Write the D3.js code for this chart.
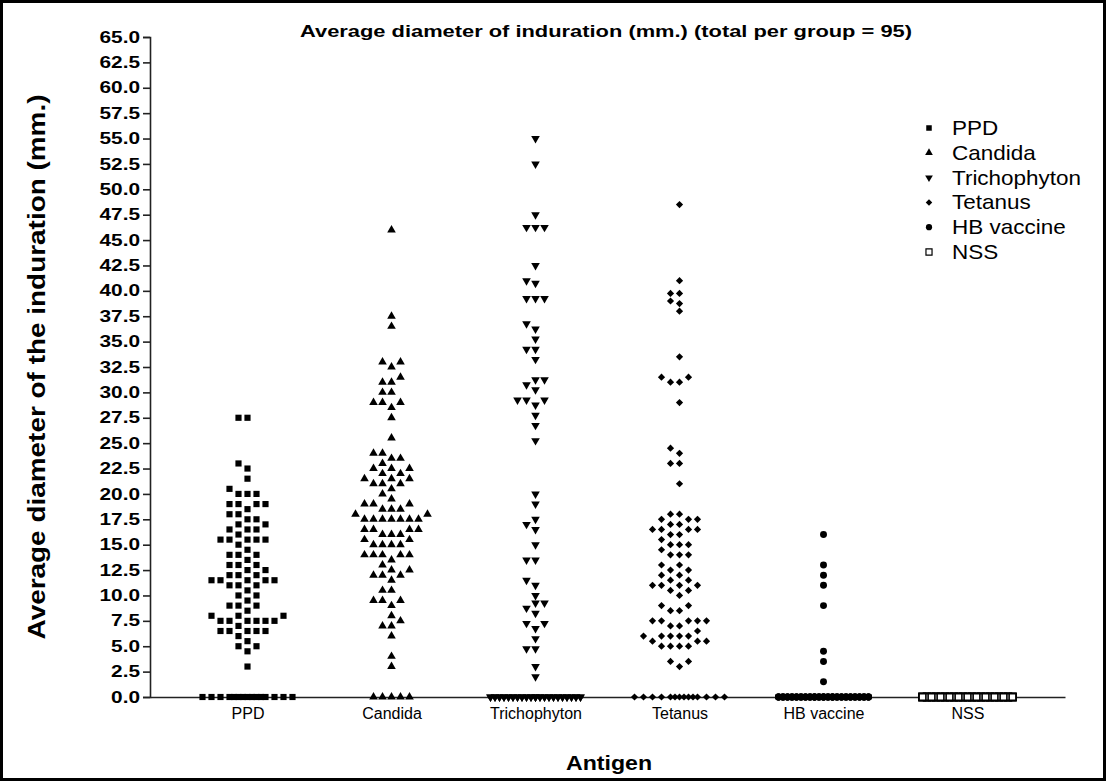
<!DOCTYPE html>
<html><head><meta charset="utf-8">
<script src="https://cdn.jsdelivr.net/npm/d3@7"></script>
<style>
body{margin:0;background:#fff}
svg{display:block}
text{font-family:"Liberation Sans",Arial,Helvetica,sans-serif;fill:#000}
</style>
</head><body>
<svg id="chart" width="1106" height="781"></svg>
<script>
// ---------------- data ----------------
const categories = ["PPD","Candida","Trichophyton","Tetanus","HB vaccine","NSS"];
const yTickValues = [0,2.5,5,7.5,10,12.5,15,17.5,20,22.5,25,27.5,30,32.5,35,37.5,40,42.5,45,47.5,50,52.5,55,57.5,60,62.5,65];
const titleText = "Average diameter of induration (mm.) (total per group = 95)";
const yTitle = "Average diameter of the induration (mm.)";
const xTitle = "Antigen";

const ppd = [0,0,0,0,0,0,0,0,0,0,0,0,0,0,0,
  3.0,4.5,5.0,5.0,5.5,6.0,6.5,6.5,6.5,6.5,6.5,7.0,7.5,7.5,7.5,7.5,7.5,7.5,
  8.0,8.0,8.0,8.5,9.0,9.0,9.0,9.5,10.0,10.0,10.5,11.0,11.0,11.0,
  11.5,11.5,11.5,11.5,11.5,12.0,12.0,12.0,12.5,12.5,13.0,13.0,13.0,13.5,
  14.0,14.0,14.0,14.5,15.0,15.5,15.5,15.5,15.5,15.5,16.0,16.5,16.5,16.5,
  17.0,17.0,17.5,17.5,18.0,18.0,18.5,19.0,19.0,19.0,19.0,20.0,20.0,20.0,
  20.5,21.5,22.5,23.0,27.5,27.5];
const candida = [0,0,0,0,0,
  3.0,4.0,6.0,7.0,7.0,7.5,8.0,9.0,9.5,9.5,9.5,10.5,10.5,11.5,12.0,12.0,12.0,
  12.5,12.5,13.0,13.5,14.0,14.0,14.0,14.0,14.0,15.0,15.0,15.0,15.0,15.5,15.5,
  16.0,16.0,16.0,16.5,16.5,16.5,16.5,17.5,17.5,17.5,17.5,17.5,17.5,17.5,
  18.0,18.0,18.5,18.5,18.5,19.0,19.0,19.0,19.5,20.0,20.5,21.0,21.0,21.0,
  21.5,21.5,21.5,22.0,22.0,22.5,22.5,22.5,23.0,23.5,23.5,24.0,24.0,25.5,
  27.5,28.5,29.0,29.0,29.0,30.0,30.0,31.0,31.0,31.5,32.5,33.0,33.0,36.5,37.5,46.0];
const trichophyton = [0,0,0,0,0,0,0,0,0,0,0,0,0,0,0,0,0,0,0,0,0,0,0,0,0,0,0,0,0,0,
  0,0,0,0,0,0,0,0,0,0,0,0,0,
  2.0,3.0,4.75,4.75,5.75,6.75,7.25,7.25,8.25,8.75,9.25,9.25,10.0,11.0,11.5,
  13.5,13.5,15.0,16.5,17.0,17.5,19.0,20.0,25.25,26.75,27.75,28.75,29.25,29.25,
  29.25,30.25,30.75,31.25,31.25,33.25,34.25,34.25,35.25,36.25,36.75,39.25,39.25,
  39.25,40.75,41.0,42.5,46.25,46.25,46.25,47.5,52.5,55.0];
const tetanus = [0,0,0,0,0,0,0,0,0,0,0,0,0,0,
  3.0,3.5,3.5,5.0,5.0,5.0,5.0,5.5,5.5,5.5,6.0,6.0,6.0,6.0,6.0,6.5,7.0,7.0,
  7.5,7.5,7.5,7.5,7.5,8.5,8.5,9.0,9.0,10.0,10.5,10.5,11.0,11.0,11.0,11.0,
  11.5,11.5,12.0,12.0,12.5,12.5,13.0,13.0,14.0,14.0,14.0,14.5,15.0,15.0,15.0,
  15.5,16.0,16.0,16.5,16.5,16.5,16.5,17.0,17.0,17.5,17.5,17.5,18.0,18.0,
  21.0,23.0,23.0,24.0,24.5,29.0,31.0,31.0,31.5,31.5,33.5,38.0,38.75,39.0,
  39.75,39.75,41.0,48.5];
const hbVaccine = [0,0,0,0,0,0,0,0,0,0,0,0,0,0,0,0,0,0,0,0,0,0,0,0,0,0,0,0,0,0,
  0,0,0,0,0,0,0,0,0,0,0,0,0,0,0,0,0,0,0,0,0,0,0,0,0,0,0,0,0,0,
  0,0,0,0,0,0,0,0,0,0,0,0,0,0,0,0,0,0,0,0,0,0,0,0,0,0,0,
  1.5,3.5,4.5,9.0,11.0,12.0,13.0,16.0];
const nss = [0,0,0,0,0,0,0,0,0,0,0,0,0,0,0,0,0,0,0,0,0,0,0,0,0,0,0,0,0,0,
  0,0,0,0,0,0,0,0,0,0,0,0,0,0,0,0,0,0,0,0,0,0,0,0,0,0,0,0,0,0,
  0,0,0,0,0,0,0,0,0,0,0,0,0,0,0,0,0,0,0,0,0,0,0,0,0,0,0,0,0,0,
  0,0,0,0,0];
const seriesValues = [ppd, candida, trichophyton, tetanus, hbVaccine, nss];

// ---------------- chart ----------------
const svg = d3.select("#chart");
const W = 1106, H = 781;
const plot = {left:150, right:1065, top:37, bottom:697};

svg.append("rect").attr("x",1.5).attr("y",1.5).attr("width",W-3).attr("height",H-3)
  .attr("fill","#fff").attr("stroke","#000").attr("stroke-width",3);

const x = d3.scalePoint().domain(categories).range([plot.left, plot.right]).padding(0.677);
const y = d3.scaleLinear().domain([0,65]).range([plot.bottom, plot.top]);

function stretch(sel, f){
  sel.each(function(){
    const w = this.getComputedTextLength();
    this.setAttribute("textLength", (w*f).toFixed(1));
    this.setAttribute("lengthAdjust","spacingAndGlyphs");
  });
}
function fitTo(sel, w){
  sel.attr("textLength", w).attr("lengthAdjust","spacingAndGlyphs");
}

// y axis
const gy = svg.append("g").attr("transform",`translate(${plot.left},0)`)
  .call(d3.axisLeft(y).tickValues(yTickValues).tickFormat(d3.format(".1f")).tickSize(7).tickPadding(3));
gy.select(".domain").attr("stroke","#222").attr("stroke-width",1.6);
gy.selectAll(".tick line").attr("stroke","#222").attr("stroke-width",1.6);
gy.selectAll(".tick text").attr("font-size",16).attr("font-weight","bold")
  .attr("font-family","'Liberation Sans',Arial,sans-serif").attr("fill","#000");
stretch(gy.selectAll(".tick text"), 1.3);

// x axis
const gx = svg.append("g").attr("transform",`translate(0,${plot.bottom})`)
  .call(d3.axisBottom(x).tickSizeInner(0).tickSizeOuter(0).tickPadding(11));
gx.select(".domain").attr("stroke","#222").attr("stroke-width",1.6);
gx.selectAll(".tick text").attr("font-size",16)
  .attr("font-family","'Liberation Sans',Arial,sans-serif").attr("fill","#000");

// markers
const shapes = [
  {type:d3.symbolSquare,   size:38, rot:0,   fill:"#000", stroke:"none", sw:0},
  {type:d3.symbolTriangle, size:32, rot:0,   fill:"#000", stroke:"none", sw:0},
  {type:d3.symbolTriangle, size:32, rot:180, fill:"#000", stroke:"none", sw:0},
  {type:d3.symbolSquare,   size:26, rot:45,  fill:"#000", stroke:"none", sw:0},
  {type:d3.symbolCircle,   size:38, rot:0,   fill:"#000", stroke:"none", sw:0},
  {type:d3.symbolSquare,   size:46, rot:0,   fill:"#fff", stroke:"#000", sw:1.6}
];

const slotW = 9;
function swarm(vals){
  const full=[0,-1,1,-2,2,-3,3,-4,4,-5,5];
  const over=[0.5,-0.5,1.5,-1.5,2.5,-2.5,3.5,-3.5,4.5,-4.5].concat(full);
  const placed=[]; const overflow=new Map();
  vals.slice().sort((a,b)=>a-b).forEach(v=>{
    const py=y(v);
    let s = full.find(s=>!placed.some(p=>Math.abs(p.s-s)<0.9 && Math.abs(p.py-py)<7));
    if(s===undefined){ const k=overflow.get(v)||0; s=over[k%over.length]; overflow.set(v,k+1); }
    placed.push({v,s,py});
  });
  return placed;
}

categories.forEach((cat,i)=>{
  const sh = shapes[i];
  const pts = swarm(seriesValues[i]);
  svg.append("g").selectAll("path").data(pts).join("path")
    .attr("d", d3.symbol().type(sh.type).size(sh.size))
    .attr("transform", d=>`translate(${x(cat)+d.s*slotW},${d.py}) rotate(${sh.rot})`)
    .attr("fill", sh.fill).attr("stroke", sh.stroke).attr("stroke-width",sh.sw);
});

// legend
const lg = svg.append("g");
categories.forEach((cat,i)=>{
  const sh = shapes[i];
  const ly = 128 + i*24.8;
  lg.append("path").attr("d", d3.symbol().type(sh.type).size(sh.size*0.8))
    .attr("transform",`translate(929,${ly}) rotate(${sh.rot})`)
    .attr("fill", sh.fill).attr("stroke", sh.stroke).attr("stroke-width",sh.sw ? 1.2 : 0);
  const t = lg.append("text").attr("x",952).attr("y",ly+7).attr("font-size",21).text(cat);
  stretch(t,1.07);
});

// titles
const tt = svg.append("text").attr("x",606).attr("y",37).attr("text-anchor","middle")
  .attr("font-size",17).attr("font-weight","bold").text(titleText);
fitTo(tt, 612);
const yt = svg.append("text").attr("transform",`translate(45,367) rotate(-90)`)
  .attr("text-anchor","middle").attr("font-size",23).attr("font-weight","bold").text(yTitle);
fitTo(yt, 545);
const xt = svg.append("text").attr("x",609).attr("y",770).attr("text-anchor","middle")
  .attr("font-size",21).attr("font-weight","bold").text(xTitle);
fitTo(xt, 86);
</script>
</body></html>
